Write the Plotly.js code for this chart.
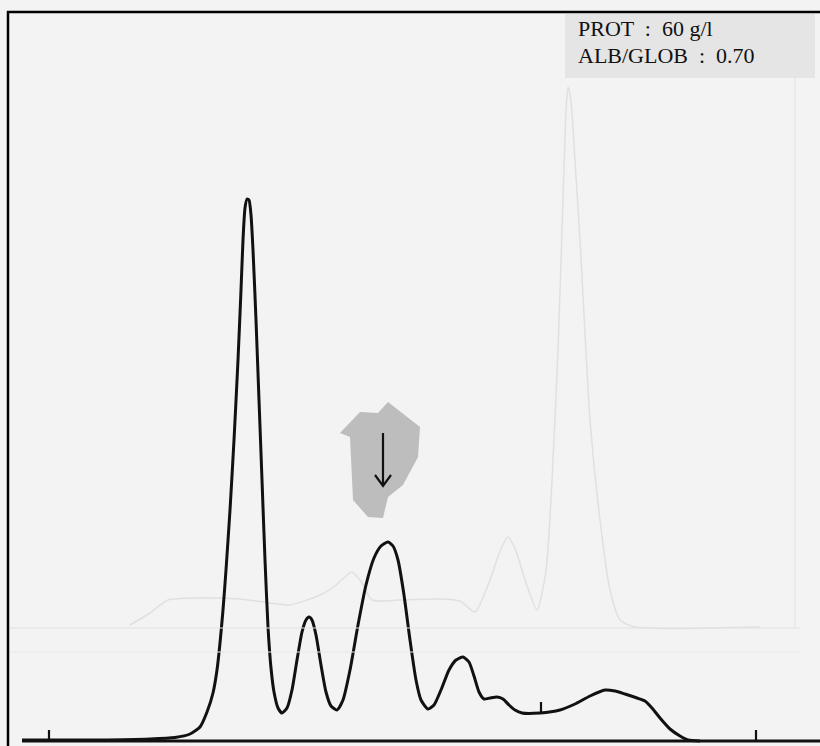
<!DOCTYPE html>
<html>
<head>
<meta charset="utf-8">
<script src="https://cdn.plot.ly/plotly-3.0.1.min.js"></script>
<style>html,body{margin:0;padding:0;background:#f3f3f3;}#chart{width:820px;height:746px;}</style>
</head>
<body>
<div id="chart"></div>
<script>
// Serum protein electrophoresis densitometry trace (arbitrary units)
const migration = [22,100,150,175,190,200,207,213,217,220,223,226,230,234,238,241,243,245,247,249,251,253,256,259,262,265,268,271,274,278,282,287,292,297,302,306,309,312,316,321,326,331,337,343,350,358,366,374,381,388,393,398,404,410,416,421,428,434,441,449,456,463,469,474,479,484,490,497,503,509,515,522,540,560,575,590,605,615,625,637,645,652,660,670,680,688,700];
const absorbance = [1,1,2,3.5,7,14,29,48,71,98,131,171,231,301,381,451,501,533,542,541,526,491,421,341,261,181,114,73,49,33,28,33,51,81,109,121,124,121,106,76,49,35,31,41,71,116,156,183,195,199,195,181,146,101,61,41,32,36,51,71,81,84,79,65,49,42,43,44,42,36,31,28,28,31,37,45,51,50,47,43,40,33,23,12,5,1,0];

// faint show-through trace from the reverse of the page
const ghostMigration = [130,150,168,200,240,270,290,320,335,352,362,372,400,440,460,475,490,500,508,516,525,537,546,552,558,563,566,568,571,575,580,590,600,610,620,635,760];
const ghostAbsorbance = [116,128,141,143,142,138,136,146,155,169,158,141,141,142,140,129,161,190,204,190,161,131,170,260,391,541,630,654,640,580,501,321,221,151,121,114,114];

const tickPositions = [49, 541, 756];
const tickBases = [0, 28, 0];

const infoLines = ["PROT  :  60 g/l", "ALB/GLOB  :  0.70"];

const traces = [
  {x: ghostMigration, y: ghostAbsorbance, mode: 'lines', line: {color: '#e0e0e0', width: 1.5, shape: 'spline', smoothing: 0.6}, hoverinfo: 'skip'},
  {x: migration, y: absorbance, mode: 'lines', line: {color: '#111111', width: 3, shape: 'spline', smoothing: 0.6}}
];

const shapes = [
  // faint ghost frame
  {type: 'line', xref: 'x', yref: 'y', x0: 10, x1: 800, y0: 113, y1: 113, line: {color: '#e2e2e2', width: 1.2}},
  {type: 'line', xref: 'x', yref: 'y', x0: 10, x1: 800, y0: 89, y1: 89, line: {color: '#e8e8e8', width: 1.2}},
  {type: 'line', xref: 'x', yref: 'y', x0: 795, x1: 795, y0: 113, y1: 666, line: {color: '#e4e4e4', width: 1.2}},
  // info box
  {type: 'rect', xref: 'x', yref: 'y', x0: 565, x1: 815, y0: 663, y1: 727, fillcolor: '#e5e5e5', line: {width: 0}},
  // gray marker patch
  {type: 'path', xref: 'x', yref: 'y', fillcolor: '#bdbdbd', line: {width: 0},
   path: 'M340,308 L360,329 L378,328 L388,339 L420,314 L418,284 L403,256 L388,244 L383,223 L368,224 L353,241 L350,304 Z'},
  // arrow
  {type: 'path', xref: 'x', yref: 'y', line: {color: '#111', width: 2.2},
   path: 'M383,308 L383,256 M375,266 L383,255 L391,266'},
  // frame
  {type: 'line', xref: 'x', yref: 'y', x0: 7, x1: 820, y0: 729, y1: 729, line: {color: '#000', width: 2.5}},
  {type: 'line', xref: 'x', yref: 'y', x0: 8, x1: 8, y0: 730, y1: -6, line: {color: '#000', width: 2.5}},
  // baseline
  {type: 'line', xref: 'x', yref: 'y', x0: 22, x1: 820, y0: 0, y1: 0, line: {color: '#111', width: 3}}
];
tickPositions.forEach((t, i) => {
  shapes.push({type: 'line', xref: 'x', yref: 'y', x0: t, x1: t, y0: tickBases[i], y1: tickBases[i] + 11, line: {color: '#111', width: 2.2}});
});

const annotations = infoLines.map((s, i) => ({
  xref: 'x', yref: 'y', x: 576, y: 713 - i * 27, xanchor: 'left', yanchor: 'middle',
  text: s, showarrow: false, font: {family: 'Liberation Serif, serif', size: 22, color: '#111111'}
}));

const layout = {
  width: 820, height: 746,
  margin: {l: 0, r: 0, t: 0, b: 0},
  paper_bgcolor: '#f3f3f3', plot_bgcolor: 'rgba(0,0,0,0)',
  showlegend: false,
  xaxis: {range: [0, 820], visible: false, fixedrange: true},
  yaxis: {range: [-5, 741], visible: false, fixedrange: true},
  shapes: shapes,
  annotations: annotations
};

Plotly.newPlot('chart', traces, layout, {staticPlot: true});
</script>
</body>
</html>
